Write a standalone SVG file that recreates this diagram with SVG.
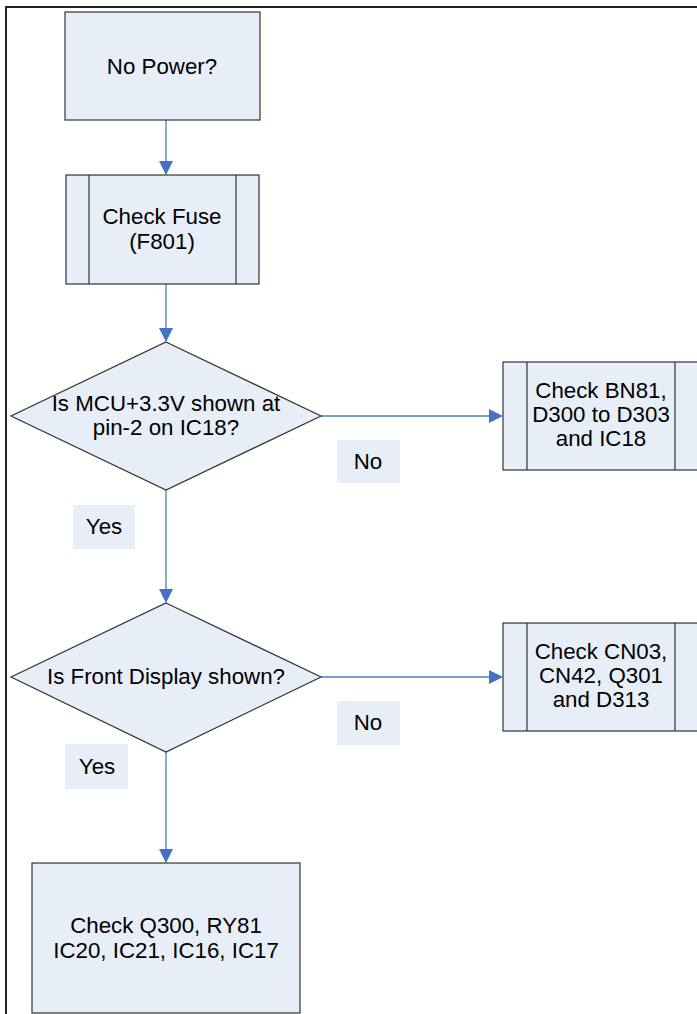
<svg xmlns="http://www.w3.org/2000/svg" width="697" height="1014" viewBox="0 0 697 1014">
<style>
.box{fill:#E8EEF7;stroke:#333;stroke-width:1.2}
.lbl{fill:#E8EEF7;stroke:none}
.t{font-family:"Liberation Sans",Arial,sans-serif;font-size:22.3px;fill:#000;text-anchor:middle}
.c{stroke:#4A7EBB;stroke-width:1.3;fill:none}
.ah{fill:#4472C4}
</style>
<rect x="0" y="0" width="697" height="1014" fill="#fff"/>
<path d="M6,1016 V7 H700" fill="none" stroke="#222" stroke-width="2"/>
<g id="connectors">
<line class="c" x1="166" y1="120" x2="166" y2="162"/>
<polygon class="ah" points="159,161 173,161 166,175"/>
<line class="c" x1="166" y1="284" x2="166" y2="329"/>
<polygon class="ah" points="159,328 173,328 166,342"/>
<line class="c" x1="166" y1="490" x2="166" y2="590"/>
<polygon class="ah" points="159,589 173,589 166,603"/>
<line class="c" x1="166" y1="752" x2="166" y2="850"/>
<polygon class="ah" points="159,849 173,849 166,863"/>
<line class="c" x1="321" y1="416" x2="490" y2="416"/>
<polygon class="ah" points="489,409 489,423 503,416"/>
<line class="c" x1="321" y1="677" x2="490" y2="677"/>
<polygon class="ah" points="489,670 489,684 503,677"/>
</g>
<g id="n-nopower">
<rect class="box" x="65" y="12" width="195" height="108"/>
<text class="t" x="162" y="74">No Power?</text>
</g>
<g id="n-fuse">
<rect class="box" x="66" y="175" width="193" height="109"/>
<line x1="89" y1="175" x2="89" y2="284" stroke="#333" stroke-width="1.2"/>
<line x1="236" y1="175" x2="236" y2="284" stroke="#333" stroke-width="1.2"/>
<text class="t" x="162" y="224">Check Fuse</text>
<text class="t" x="162" y="249">(F801)</text>
</g>
<g id="n-mcu">
<polygon class="box" points="166,342 321,416 166,490 11,416"/>
<text class="t" x="166" y="411">Is MCU+3.3V shown at</text>
<text class="t" x="166" y="435">pin-2 on IC18?</text>
</g>
<g id="n-bn81">
<rect class="box" x="503" y="362" width="196" height="108"/>
<line x1="527" y1="362" x2="527" y2="470" stroke="#333" stroke-width="1.2"/>
<line x1="675" y1="362" x2="675" y2="470" stroke="#333" stroke-width="1.2"/>
<text class="t" x="601" y="398">Check BN81,</text>
<text class="t" x="601" y="422">D300 to D303</text>
<text class="t" x="601" y="446">and IC18</text>
</g>
<g id="l-no1">
<rect class="lbl" x="337" y="440" width="63" height="43"/>
<text class="t" x="368" y="469">No</text>
</g>
<g id="l-yes1">
<rect class="lbl" x="73" y="505" width="62" height="44"/>
<text class="t" x="104" y="534">Yes</text>
</g>
<g id="n-display">
<polygon class="box" points="166,603 321,677 166,752 11,677"/>
<text class="t" x="166" y="684">Is Front Display shown?</text>
</g>
<g id="n-cn03">
<rect class="box" x="503" y="623" width="196" height="108"/>
<line x1="527" y1="623" x2="527" y2="731" stroke="#333" stroke-width="1.2"/>
<line x1="675" y1="623" x2="675" y2="731" stroke="#333" stroke-width="1.2"/>
<text class="t" x="601" y="659">Check CN03,</text>
<text class="t" x="601" y="683">CN42, Q301</text>
<text class="t" x="601" y="707">and D313</text>
</g>
<g id="l-no2">
<rect class="lbl" x="337" y="701" width="63" height="44"/>
<text class="t" x="368" y="730">No</text>
</g>
<g id="l-yes2">
<rect class="lbl" x="65" y="744" width="63" height="45"/>
<text class="t" x="97" y="774">Yes</text>
</g>
<g id="n-q300">
<rect class="box" x="32" y="863" width="268" height="150"/>
<text class="t" x="166" y="933">Check Q300, RY81</text>
<text class="t" x="166" y="958">IC20, IC21, IC16, IC17</text>
</g>
</svg>
